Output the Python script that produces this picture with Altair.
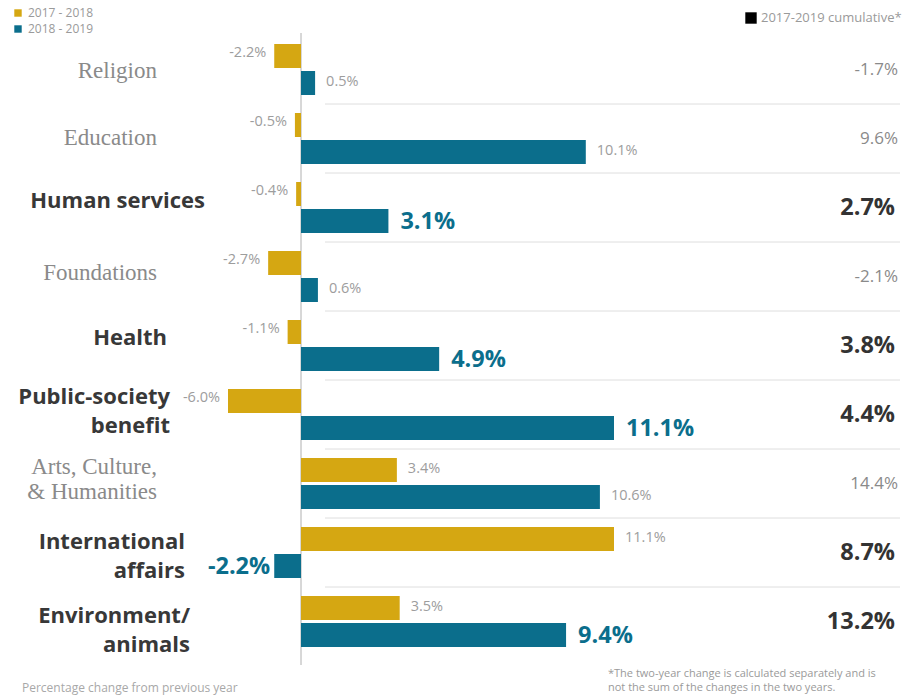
import altair as alt
import pandas as pd

# ---- data ----
categories = ["Religion", "Education", "Human services", "Foundations", "Health",
              "Public-society benefit", "Arts, Culture, & Humanities",
              "International affairs", "Environment/animals"]
display_labels = ["Religion", "Education", "Human services", "Foundations", "Health",
                  "Public-society\nbenefit", "Arts, Culture,\n& Humanities",
                  "International\naffairs", "Environment/\nanimals"]
series_names = ["2017 - 2018", "2018 - 2019"]
change_1718 = [-2.2, -0.5, -0.4, -2.7, -1.1, -6.0, 3.4, 11.1, 3.5]
change_1819 = [0.5, 10.1, 3.1, 0.6, 4.9, 11.1, 10.6, -2.2, 9.4]
cumulative = [-1.7, 9.6, 2.7, -2.1, 3.8, 4.4, 14.4, 8.7, 13.2]
highlighted = ["Human services", "Health", "Public-society benefit",
               "International affairs", "Environment/animals"]
cumulative_legend = ["2017-2019 cumulative*"]
footer_left = ["Percentage change from previous year"]
footer_right = ["*The two-year change is calculated separately and is",
                "not the sum of the changes in the two years."]

GOLD = "#D5A712"
TEAL = "#0B6E8C"
SANS = "Open Sans"
SERIF = "Liberation Serif"

# label placement (style only): right edge x and vertical nudge for each category label
label_place = {
    "Religion": (157, 1), "Education": (157, -1), "Human services": (205, -7),
    "Foundations": (157, -4), "Health": (167, -8), "Public-society benefit": (170, -18),
    "Arts, Culture, & Humanities": (157, -17), "International affairs": (185, -11),
    "Environment/animals": (190, -6),
}

rows = []
for i, c in enumerate(categories):
    for s, vals in zip(series_names, [change_1718, change_1819]):
        v = vals[i]
        rows.append(dict(cat=c, series=s, value=v, label=f"{v:.1f}%",
                         big=(c in highlighted and s == series_names[1])))
bars_df = pd.DataFrame(rows)

cat_df = pd.DataFrame(dict(cat=categories, disp=display_labels,
                           cum=[f"{v:.1f}%" for v in cumulative],
                           hl=[c in highlighted for c in categories]))

all_vals = change_1718 + change_1819
x_scale = alt.Scale(domain=[min(all_vals), 0, max(all_vals)], range=[228, 301, 614],
                    nice=False, zero=False)
y_scale = alt.Scale(domain=categories, range=[35, 656], paddingInner=0, paddingOuter=0)
yoff_scale = alt.Scale(domain=series_names, paddingInner=0.11, paddingOuter=0.333)

Y = alt.Y("cat:N", scale=y_scale, axis=None)
YO = alt.YOffset("series:N", scale=yoff_scale)
X = alt.X("value:Q", scale=x_scale, axis=None)

bars = alt.Chart(bars_df).mark_bar().encode(
    x=X, x2=alt.datum(0), y=Y, yOffset=YO,
    color=alt.Color("series:N", scale=alt.Scale(domain=series_names, range=[GOLD, TEAL]),
                    legend=alt.Legend(orient="none", legendX=12, legendY=7, title=None,
                                      symbolType="square", symbolSize=55,
                                      labelFontSize=12, labelColor="#9a9a9a",
                                      labelFont=SANS, rowPadding=4,
                                      symbolStrokeWidth=0)),
)

small_df = bars_df[~bars_df["big"]]
big_df = bars_df[bars_df["big"]]

small_pos = alt.Chart(small_df[small_df.value >= 0]).mark_text(
    align="left", dx=11, dy=-1, font=SANS, fontSize=14.5, color="#9d9d9d"
).encode(x=X, y=Y, yOffset=YO, text="label:N")
small_neg = alt.Chart(small_df[small_df.value < 0]).mark_text(
    align="right", dx=-8, dy=-3, font=SANS, fontSize=14.5, color="#9d9d9d"
).encode(x=X, y=Y, yOffset=YO, text="label:N")
big_pos = alt.Chart(big_df[big_df.value >= 0]).mark_text(
    align="left", dx=12, dy=1, font=SANS, fontSize=23.5, fontWeight="bold", color=TEAL
).encode(x=X, y=Y, yOffset=YO, text="label:N")
big_neg = alt.Chart(big_df[big_df.value < 0]).mark_text(
    align="right", dx=-4, dy=1, font=SANS, fontSize=23.5, fontWeight="bold", color=TEAL
).encode(x=X, y=Y, yOffset=YO, text="label:N")

separators = alt.Chart(pd.DataFrame(dict(cat=categories[1:]))).mark_rule(
    color="#dedede", strokeWidth=1
).encode(y=alt.Y("cat:N", scale=y_scale, axis=None, bandPosition=0),
         x=alt.value(325), x2=alt.value(900))

zero_line = alt.Chart(pd.DataFrame(dict(v=[0]))).mark_rule(
    color="#b0b0b0", strokeWidth=1
).encode(x=alt.X("v:Q", scale=x_scale, axis=None), y=alt.value(33), y2=alt.value(665))

label_layers = []
for _, r in cat_df.iterrows():
    rx, rdy = label_place[r["cat"]]
    one = cat_df[cat_df.cat == r["cat"]]
    if r["hl"]:
        mk = alt.Chart(one).mark_text(
            align="right", baseline="middle", dy=rdy, font=SANS, fontSize=22,
            fontWeight="bold", color="#383838", lineBreak="\n", lineHeight=29)
    else:
        mk = alt.Chart(one).mark_text(
            align="right", baseline="middle", dy=rdy, font=SERIF, fontSize=23,
            color="#8a8a8a", lineBreak="\n", lineHeight=25)
    label_layers.append(mk.encode(x=alt.value(rx), y=Y, text="disp:N"))

cum_small = alt.Chart(cat_df[~cat_df.hl]).mark_text(
    align="right", baseline="middle", font=SANS, fontSize=17, color="#8a8a8a"
).encode(x=alt.value(898), y=Y, text="cum:N")
cum_big = alt.Chart(cat_df[cat_df.hl]).mark_text(
    align="right", baseline="middle", font=SANS, fontSize=23.5, fontWeight="bold",
    color="#333333"
).encode(x=alt.value(895), y=Y, text="cum:N")

cum_leg_df = pd.DataFrame(dict(t=cumulative_legend))
cum_leg_sq = alt.Chart(cum_leg_df).mark_square(size=130, color="#000000", opacity=1).encode(
    x=alt.value(751), y=alt.value(18))
cum_leg_txt = alt.Chart(cum_leg_df).mark_text(
    align="left", baseline="middle", font=SANS, fontSize=13, color="#9a9a9a"
).encode(x=alt.value(761), y=alt.value(18), text="t:N")

foot_l = alt.Chart(pd.DataFrame(dict(t=footer_left))).mark_text(
    align="left", baseline="middle", font=SANS, fontSize=12, color="#a8a8a8"
).encode(x=alt.value(22), y=alt.value(688), text="t:N")
foot_r = alt.Chart(pd.DataFrame(dict(t=["\n".join(footer_right)]))).mark_text(
    align="left", baseline="top", font=SANS, fontSize=11, color="#9a9a9a",
    lineBreak="\n", lineHeight=14
).encode(x=alt.value(608), y=alt.value(668), text="t:N")

chart = alt.layer(
    separators, zero_line, bars, small_pos, small_neg, big_pos, big_neg,
    *label_layers, cum_small, cum_big, cum_leg_sq, cum_leg_txt,
    foot_l, foot_r
).properties(
    width=906, height=698, autosize=alt.AutoSizeParams(type="none"), padding=0,
    background="white"
).configure_view(strokeWidth=0)

chart.save("out.html", embed_options={"renderer": "svg", "actions": False})
